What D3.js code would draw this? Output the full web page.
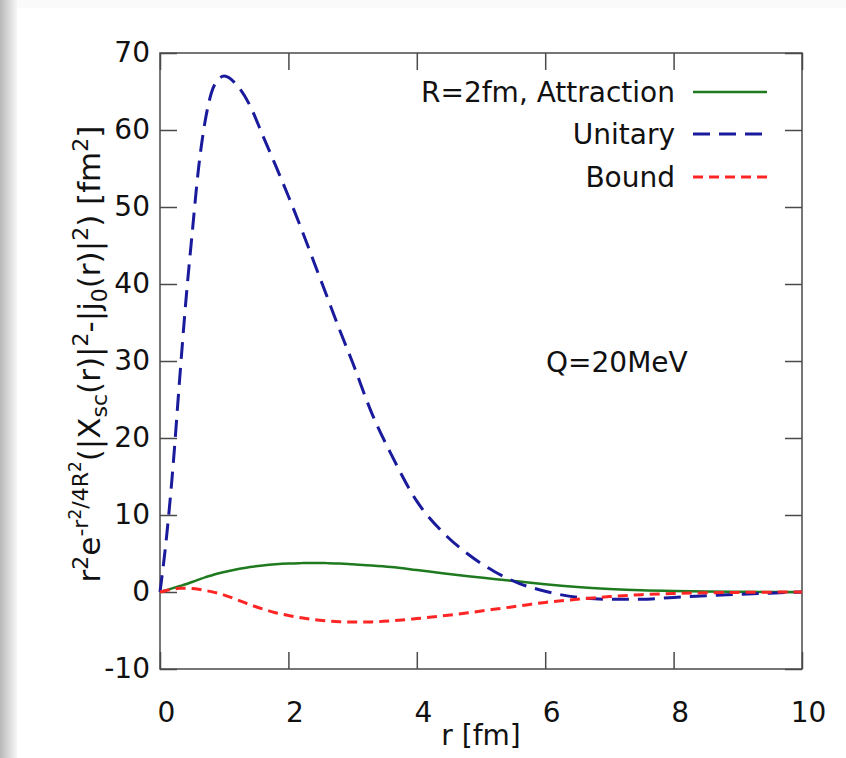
<!DOCTYPE html>
<html>
<head>
<meta charset="utf-8">
<script src="https://cdn.jsdelivr.net/npm/d3@7"></script>
<style>
  html, body { margin: 0; padding: 0; background: #fff; }
  svg text { font-family: "DejaVu Sans", Verdana, sans-serif; fill: #111; }
</style>
</head>
<body>
<svg id="chart" width="846" height="758"></svg>
<script>
// Data
const rGrid = [0, 0.1, 0.2, 0.3, 0.4, 0.5, 0.6, 0.7, 0.8, 0.9, 1.0, 1.2, 1.4, 1.6, 1.8, 2.0, 2.2, 2.4, 2.6, 2.8, 3.0,
               3.3, 3.6, 4.0, 4.4, 4.8, 5.2, 5.6, 6.0, 6.5, 7.0, 7.5, 8.0, 8.5, 9.0, 9.5, 10];
const attraction = [0, 0.25, 0.5, 0.75, 1.0, 1.3, 1.6, 1.9, 2.15, 2.4, 2.6, 2.95, 3.25, 3.45, 3.6, 3.7, 3.75, 3.78, 3.75, 3.7, 3.6,
                    3.45, 3.25, 2.85, 2.45, 2.05, 1.7, 1.35, 1.0, 0.65, 0.4, 0.22, 0.12, 0.06, 0.03, 0.01, 0];
const unitary = [0, 7, 16, 27, 37.5, 46.5, 55, 61, 64.8, 66.5, 67, 65.8, 63.2, 59.3, 55.4, 51.4, 47.2, 42.8, 38.4, 34.0, 29.8,
                 23.2, 17.9, 11.8, 7.8, 4.9, 2.7, 1.1, 0.1, -0.7, -0.95, -0.95, -0.7, -0.5, -0.3, -0.15, 0];
const bound = [0, 0.2, 0.38, 0.48, 0.5, 0.45, 0.35, 0.2, 0.05, -0.15, -0.4, -1.0, -1.65, -2.2, -2.7, -3.05, -3.35, -3.6, -3.75, -3.85, -3.9,
               -3.88, -3.75, -3.45, -3.1, -2.7, -2.25, -1.8, -1.35, -0.95, -0.6, -0.35, -0.2, -0.1, -0.05, -0.02, 0];
const xTicks = [0, 2, 4, 6, 8, 10];
const yTicks = [-10, 0, 10, 20, 30, 40, 50, 60, 70];
const seriesNames = ["R=2fm, Attraction", "Unitary", "Bound"];

const width = 846, height = 758;
const plotLeft = 160, plotRight = 802, plotTop = 53, plotBottom = 669;
const fontSize = 28;
const tickLen = 17;

const svg = d3.select("#chart");

// page-like background with a soft shadow on the left edge
const defs = svg.append("defs");
const grad = defs.append("linearGradient").attr("id", "shade").attr("x1", 0).attr("x2", 1).attr("y1", 0).attr("y2", 0);
grad.append("stop").attr("offset", "0%").attr("stop-color", "#b8b8b8");
grad.append("stop").attr("offset", "60%").attr("stop-color", "#dedede");
grad.append("stop").attr("offset", "100%").attr("stop-color", "#f6f6f6");
svg.append("rect").attr("width", width).attr("height", height).attr("fill", "#fafafa");
svg.append("rect").attr("x", 0).attr("y", 0).attr("width", 17).attr("height", height).attr("fill", "url(#shade)");
svg.append("rect").attr("x", 17).attr("y", 8).attr("width", width - 17).attr("height", height - 8).attr("fill", "#fff");

const x = d3.scaleLinear().domain([0, 10]).range([plotLeft, plotRight]);
const y = d3.scaleLinear().domain([-10, 70]).range([plotBottom, plotTop]);

// axes: ticks point inward, mirrored on top and right
const axisColor = "#4a4a4a";
function styleAxis(g) {
  g.select(".domain").remove();
  g.selectAll(".tick line").attr("stroke", axisColor).attr("stroke-width", 1.5);
  g.selectAll(".tick text").style("font-size", fontSize + "px").attr("fill", "#111");
}

svg.append("g").attr("transform", `translate(0,${plotBottom})`)
  .call(d3.axisBottom(x).tickValues(xTicks).tickSizeInner(-tickLen).tickSizeOuter(0).tickPadding(33).tickFormat(d => String(d)))
  .call(styleAxis)
  .call(g => g.selectAll(".tick text").attr("dx", 6));
svg.append("g").attr("transform", `translate(0,${plotTop})`)
  .call(d3.axisTop(x).tickValues(xTicks).tickSizeInner(-tickLen).tickSizeOuter(0).tickFormat(""))
  .call(styleAxis);
svg.append("g").attr("transform", `translate(${plotLeft},0)`)
  .call(d3.axisLeft(y).tickValues(yTicks).tickSizeInner(-tickLen).tickSizeOuter(0).tickPadding(10).tickFormat(d => String(d)))
  .call(styleAxis);
svg.append("g").attr("transform", `translate(${plotRight},0)`)
  .call(d3.axisRight(y).tickValues(yTicks).tickSizeInner(-tickLen).tickSizeOuter(0).tickFormat(""))
  .call(styleAxis);

svg.append("rect")
  .attr("x", plotLeft).attr("y", plotTop).attr("width", plotRight - plotLeft).attr("height", plotBottom - plotTop)
  .attr("fill", "none").attr("stroke", axisColor).attr("stroke-width", 1.5);

// curves
const series = [
  { name: seriesNames[0], values: attraction, color: "#1f7a1f", width: 2.5, dash: null },
  { name: seriesNames[1], values: unitary, color: "#1a1a9c", width: 3, dash: "17,9" },
  { name: seriesNames[2], values: bound, color: "#ff2525", width: 3, dash: "10,6" }
];

const line = d3.line()
  .x((d, i) => x(rGrid[i]))
  .y(d => y(d))
  .curve(d3.curveMonotoneX);

svg.append("g").selectAll("path")
  .data(series)
  .enter()
  .append("path")
  .attr("d", d => line(d.values))
  .attr("fill", "none")
  .attr("stroke", d => d.color)
  .attr("stroke-width", d => d.width)
  .attr("stroke-dasharray", d => d.dash);

// legend
const legendY = [92, 134, 177];
const legend = svg.append("g").selectAll("g")
  .data(series)
  .enter()
  .append("g")
  .attr("transform", (d, i) => `translate(0,${legendY[i]})`);
legend.append("text")
  .attr("x", 675).attr("y", 10)
  .attr("text-anchor", "end")
  .style("font-size", fontSize + "px")
  .text(d => d.name);
legend.append("line")
  .attr("x1", 693).attr("x2", 767)
  .attr("stroke", d => d.color)
  .attr("stroke-width", d => d.width)
  .attr("stroke-dasharray", d => d.dash);

// annotation
svg.append("text")
  .attr("x", 546).attr("y", 372)
  .style("font-size", fontSize + "px")
  .text("Q=20MeV");

// x label
svg.append("text")
  .attr("x", 481).attr("y", 745)
  .attr("text-anchor", "middle")
  .style("font-size", fontSize + "px")
  .text("r [fm]");

// y label with super/subscripts
const ySize = 31;
const parts = [
  ["r", 0], ["2", 1], ["e", 0], ["-r", 1], ["2", 2], ["/4R", 1], ["2", 2],
  ["(|X", 0], ["sc", -1], ["(r)|", 0], ["2", 1], ["-|j", 0], ["0", -1], ["(r)|", 0], ["2", 1],
  [") [fm", 0], ["2", 1], ["]", 0]
];
const levelShift = { "-1": 7, "0": 0, "1": -12, "2": -19 };
const levelSize = { "-1": 22, "0": ySize, "1": 22, "2": 17 };
const ylab = svg.append("text")
  .attr("transform", "translate(100,354) rotate(-90)")
  .attr("text-anchor", "middle")
  .style("font-size", ySize + "px");
let prev = 0;
parts.forEach(([t, lv]) => {
  const off = levelShift[lv];
  ylab.append("tspan")
    .attr("dy", off - prev)
    .style("font-size", levelSize[lv] + "px")
    .text(t);
  prev = off;
});
</script>
</body>
</html>
